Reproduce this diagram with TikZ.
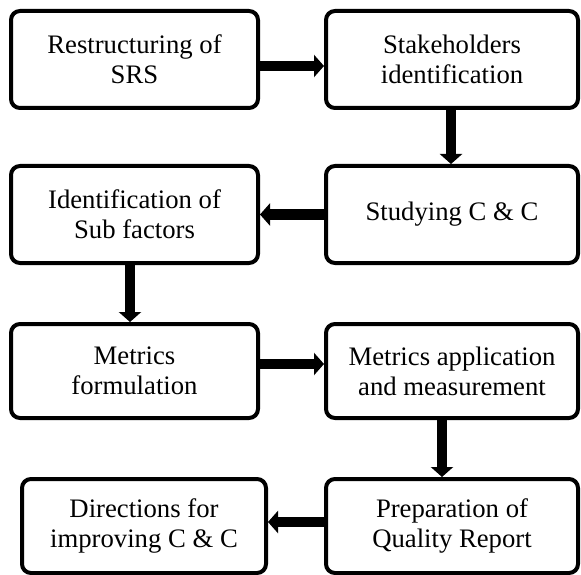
\documentclass[tikz,border=0pt]{standalone}
\usepackage{fontspec}
\setmainfont{Liberation Serif}
\usetikzlibrary{arrows.meta}
\begin{document}
\begin{tikzpicture}[x=1pt,y=-1pt,
  box/.style={draw=black, line width=4pt, rounded corners=9pt, align=center,
    inner sep=0pt, font=\fontsize{26.7}{30}\selectfont, text=black},
  wide/.style={box, minimum width=247pt, minimum height=97pt},
  flow/.style={line width=10.5pt, -{Triangle[length=10pt,width=22pt]}}]
\useasboundingbox (0,0) rectangle (581,575);
\node[wide] (b1) at (134.5,59.5) {Restructuring of\\SRS};
\node[wide, minimum width=252pt] (b2) at (452,59.5) {Stakeholders\\identification};
\node[wide] (b3) at (134.5,214.5) {Identification of\\Sub factors};
\node[wide, minimum width=252pt] (b4) at (452,214.5) {Studying C \& C};
\node[wide, minimum height=94pt] (b5) at (134.5,371) {Metrics\\formulation};
\node[wide, minimum width=252pt, minimum height=94pt] (b6) at (452,371) {Metrics application\\and measurement};
\node[wide, minimum width=244pt, minimum height=94pt] (b7) at (144,526) {Directions for\\improving C \& C};
\node[wide, minimum width=252pt, minimum height=94pt] (b8) at (452,526) {Preparation of\\Quality Report};
\draw[flow] ([yshift=-6.5pt]b1.east) -- ([yshift=-6.5pt]b2.west);
\draw[flow] ([xshift=-1pt]b2.south) -- ([xshift=-1pt]b4.north);
\draw[flow] (b4.west) -- (b3.east);
\draw[flow] ([xshift=-4.5pt]b3.south) -- ([xshift=-4.5pt]b5.north);
\draw[flow] ([yshift=7pt]b5.east) -- ([yshift=7pt]b6.west);
\draw[flow] ([xshift=-10pt]b6.south) -- ([xshift=-10pt]b8.north);
\draw[flow] ([yshift=4pt]b8.west) -- ([yshift=4pt]b7.east);
\end{tikzpicture}
\end{document}
